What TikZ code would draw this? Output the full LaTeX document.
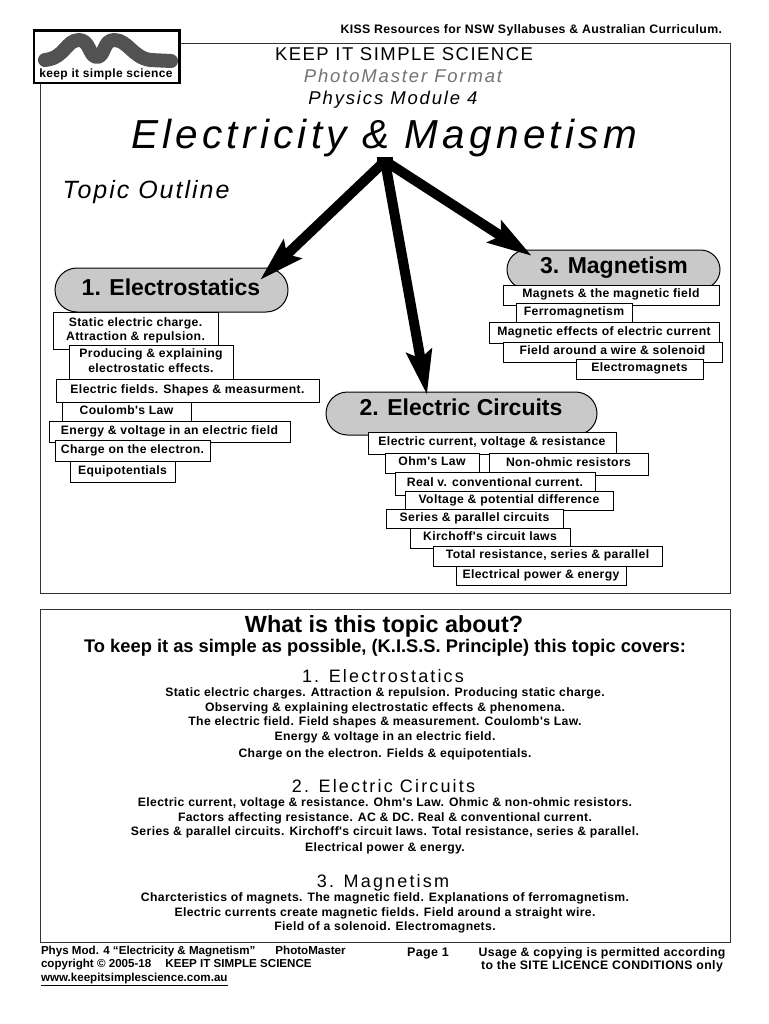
\documentclass[tikz,border=0pt]{standalone}
\usepackage{fontspec}
\setmainfont{Liberation Sans}
\usetikzlibrary{arrows.meta,calc,shapes.misc}
\newfontfamily\lsa[LetterSpace=8]{Liberation Sans}
\newfontfamily\lsb[LetterSpace=10]{Liberation Sans}
\newfontfamily\lsc[LetterSpace=12]{Liberation Sans}
\newfontfamily\lst[LetterSpace=10.5]{Liberation Sans}
\newfontfamily\bsp[LetterSpace=3]{Liberation Sans}
\tikzset{
  every node/.style={outer sep=0pt},
  lbl/.style={inner sep=0pt,align=center},
  topicbox/.style={draw=black,line width=1pt,fill=white,inner sep=0pt,align=center,text depth=3pt,font=\bsp\bfseries\fontsize{12.2}{14.2}\selectfont},
  pill/.style={rounded rectangle,draw=black,line width=1pt,fill=black!21,inner sep=0pt},
  pilltext/.style={inner sep=0pt,anchor=base,font=\bfseries\fontsize{23}{24}\selectfont},
  bigarrow/.style={line width=10pt,-{Stealth[length=44pt,width=25pt,inset=7pt]}},
  frame/.style={draw=black!80,line width=1pt},
  body/.style={inner sep=0pt,align=center,font=\bsp\bfseries\fontsize{12.2}{14.7}\selectfont},
  head/.style={inner sep=0pt,anchor=base,font=\lsc\fontsize{18}{20}\selectfont}
}
\newcommand{\tbx}[6]{\node[topicbox,anchor=north west,minimum width=#4pt-#2pt,minimum height=#5pt-#3pt] (#1) at (#2,#3) {#6};}
\begin{document}
\begin{tikzpicture}[x=1pt,y=-1pt]
\useasboundingbox (0,0) rectangle (768,1024);
\fill[white] (0,0) rectangle (768,1024);
% frames
\node[frame,draw,anchor=north west,minimum width=690pt,minimum height=549pt,inner sep=0pt] (topframe) at (40,44) {};
\node[frame,draw,anchor=north west,minimum width=690pt,minimum height=333pt,inner sep=0pt] (lowframe) at (40,609) {};
% logo
\node[draw=black,line width=2.6pt,fill=white,anchor=north west,minimum width=145.5pt,minimum height=52.5pt,inner sep=0pt] (logo) at (34,30.5) {};
\draw[black!68,line width=14pt,line cap=round,line join=round] (45,60) .. controls (65,58) and (66,40) .. (79,40) .. controls (90,40) and (89,57) .. (97,57) .. controls (105,57) and (103,40) .. (114,40) .. controls (128,40) and (132,57) .. (150,60) -- (171,61);
\node[lbl,text=white,font=\fontsize{10}{10}\selectfont] (reg) at (115,54) {®};
\node[lbl,font=\bsp\bfseries\fontsize{12}{12}\selectfont] (logotext) at (106,74) {keep it simple science};
% header
\node[lbl,anchor=north east,font=\bsp\bfseries\fontsize{12.3}{13}\selectfont] (kiss) at (722,25) {KISS Resources for NSW Syllabuses \& Australian Curriculum.};
\node[head,font=\lsa\fontsize{18.5}{20}\selectfont] (h1) at (404,61) {KEEP IT SIMPLE SCIENCE};
\node[head,text=black!55,font=\lsb\itshape\fontsize{18.5}{20}\selectfont] (h2) at (403,83) {PhotoMaster Format};
\node[head,font=\lsb\itshape\fontsize{18.5}{20}\selectfont] (h3) at (393,105) {Physics Module 4};
\node[lbl,anchor=base,font=\lst\itshape\fontsize{40.5}{44}\selectfont] (title) at (384,149) {Electricity \& Magnetism};
\node[lbl,anchor=base,font=\lsa\itshape\fontsize{25}{28}\selectfont] (outline) at (146,199) {Topic Outline};
% pills
\node[pill,minimum width=233pt,minimum height=44pt] (p1) at (171.5,290) {};
\node[pill,minimum width=271pt,minimum height=43pt] (p2) at (461.5,413.5) {};
\node[pill,minimum width=213pt,minimum height=39pt] (p3) at (613.5,269.5) {};
\node[pilltext] (p1t) at (171,295) {1. Electrostatics};
\node[pilltext] (p2t) at (461,415) {2. Electric Circuits};
\node[pilltext] (p3t) at (614,273) {3. Magnetism};
% arrows
\node[fill=black,minimum width=16pt,minimum height=8pt,inner sep=0pt] (hub) at (385,161) {};
\draw[bigarrow] (hub.center) -- ($(p1.center)+(88.5,-10)$);
\draw[bigarrow] (hub.center) -- ($(p2.center)+(-34.5,-18.5)$);
\draw[bigarrow] (hub.center) -- ($(p3.center)+(-81.5,-13.5)$);
% electrostatics
\tbx{a1}{53}{312}{218}{349}{Static electric charge.\\Attraction \& repulsion.}
\tbx{a2}{69}{345}{233}{379}{Producing \& explaining\\electrostatic effects.}
\tbx{a3}{56}{379}{319}{402}{Electric fields. Shapes \& measurment.}
\tbx{a4}{62}{402}{191}{421}{Coulomb's Law}
\tbx{a5}{49}{421}{290}{442}{Energy \& voltage in an electric field}
\tbx{a6}{55}{440}{210}{461}{Charge on the electron.}
\tbx{a7}{70}{461}{175}{482}{Equipotentials}
% circuits
\tbx{c1}{368}{432}{616}{454}{Electric current, voltage \& resistance}
\tbx{c3}{489}{453}{648}{475}{Non-ohmic resistors}
\tbx{c2}{385}{453}{479}{473}{Ohm's Law}
\tbx{c4}{395}{472}{595}{495}{Real v. conventional current.}
\tbx{c5}{405}{491}{613}{510}{Voltage \& potential difference}
\tbx{c6}{386}{509}{563}{528}{Series \& parallel circuits}
\tbx{c7}{410}{528}{570}{548}{Kirchoff's circuit laws}
\tbx{c8}{433}{546}{662}{566}{Total resistance, series \& parallel}
\tbx{c9}{456}{566}{626}{585}{Electrical power \& energy}
% magnetism
\tbx{m1}{503}{285}{719}{305}{Magnets \& the magnetic field}
\tbx{m3}{489}{322}{719}{343}{Magnetic effects of electric current}
\tbx{m2}{516}{303}{632}{322}{Ferromagnetism}
\tbx{m4}{503}{342}{722}{362}{Field around a wire \& solenoid}
\tbx{m5}{576}{359}{703}{379}{Electromagnets}
% lower panel
\node[lbl,anchor=base,font=\bfseries\fontsize{23.4}{25}\selectfont] (q) at (384,632) {What is this topic about?};
\node[lbl,anchor=base,font=\bfseries\fontsize{18.3}{20}\selectfont] (q2) at (385,652) {To keep it as simple as possible, (K.I.S.S. Principle) this topic covers:};
\node[head] (s1) at (383,682) {1. Electrostatics};
\node[body,anchor=north] (s1b) at (385,687.5) {Static electric charges. Attraction \& repulsion. Producing static charge.\\Observing \& explaining electrostatic effects \& phenomena.\\The electric field. Field shapes \& measurement. Coulomb's Law.\\Energy \& voltage in an electric field.\\[2pt]Charge on the electron. Fields \& equipotentials.};
\node[head] (s2) at (383.5,792) {2. Electric Circuits};
\node[body,anchor=north] (s2b) at (385,797.5) {Electric current, voltage \& resistance. Ohm's Law. Ohmic \& non-ohmic resistors.\\Factors affecting resistance. AC \& DC. Real \& conventional current.\\Series \& parallel circuits. Kirchoff's circuit laws. Total resistance, series \& parallel.\\[1.5pt]Electrical power \& energy.};
\node[head] (s3) at (383,887) {3. Magnetism};
\node[body,anchor=north] (s3b) at (385,892.5) {Charcteristics of magnets. The magnetic field. Explanations of ferromagnetism.\\Electric currents create magnetic fields. Field around a straight wire.\\Field of a solenoid. Electromagnets.};
% footer
\node[lbl,anchor=north west,align=left,font=\bfseries\fontsize{11.6}{13.4}\selectfont] (f1) at (41,946) {Phys Mod. 4 “Electricity \& Magnetism”\hspace{20pt}PhotoMaster\\copyright © 2005-18\hspace{14pt}KEEP IT SIMPLE SCIENCE\\\underline{www.keepitsimplescience.com.au}};
\node[lbl,font=\bsp\bfseries\fontsize{12.5}{13}\selectfont] (f2) at (428,954) {Page 1};
\node[lbl,font=\bsp\bfseries\fontsize{12.3}{13.4}\selectfont] (f3) at (602,960) {Usage \& copying is permitted according\\to the SITE LICENCE CONDITIONS only};
\end{tikzpicture}
\end{document}
